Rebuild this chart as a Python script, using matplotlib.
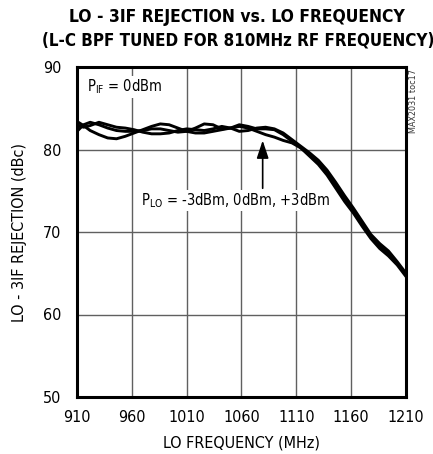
import matplotlib
matplotlib.use("Agg")
import matplotlib.pyplot as plt

freq = [910, 916, 922, 930, 938, 946, 954, 962, 970, 978, 986, 994, 1002, 1010,
        1018, 1026, 1034, 1042, 1050, 1058, 1066, 1074, 1082, 1090, 1098, 1106,
        1114, 1122, 1130, 1138, 1146, 1154, 1162, 1170, 1178, 1186, 1194, 1202, 1210]

rej_m3 = [83.4, 82.9, 82.3, 81.8, 81.4, 81.3, 81.6, 82.0, 82.4, 82.8, 83.1, 83.0, 82.6, 82.2,
          82.0, 82.0, 82.2, 82.4, 82.6, 82.8, 82.6, 82.2, 81.8, 81.5, 81.1, 80.8,
          80.2, 79.4, 78.5, 77.2, 75.6, 74.0, 72.6, 71.0, 69.4, 68.3, 67.4, 66.2, 64.8]
rej_0 = [82.2, 83.0, 83.3, 83.0, 82.6, 82.3, 82.2, 82.2, 82.3, 82.5, 82.5, 82.3, 82.1, 82.2,
         82.6, 83.1, 83.0, 82.5, 82.6, 83.0, 82.8, 82.5, 82.5, 82.4, 81.8, 81.0,
         80.2, 79.2, 78.2, 76.9, 75.3, 73.7, 72.3, 70.7, 69.2, 68.0, 67.1, 66.0, 64.6]
rej_p3 = [83.0, 82.7, 82.9, 83.3, 83.0, 82.7, 82.6, 82.4, 82.1, 81.9, 81.9, 82.0, 82.3, 82.5,
          82.4, 82.3, 82.5, 82.8, 82.6, 82.2, 82.3, 82.6, 82.7, 82.5, 82.0, 81.2,
          80.4, 79.6, 78.7, 77.5, 76.0, 74.4, 72.9, 71.3, 69.7, 68.6, 67.7, 66.4, 65.0]

xticks = [910, 960, 1010, 1060, 1110, 1160, 1210]
yticks = [50, 60, 70, 80, 90]

plt.rcParams['font.family'] = ['DejaVu Sans']
plt.rcParams['font.stretch'] = 'condensed'
plt.rcParams['mathtext.fontset'] = 'custom'
plt.rcParams['mathtext.rm'] = 'DejaVu Sans:stretch=condensed'

fig = plt.figure(figsize=(4.33, 4.54), dpi=100)
ax = fig.add_axes([77/433, 1-397/454, 329/433, 330/454])

for ys in (rej_m3, rej_0, rej_p3):
    ax.plot(freq, ys, color='black', lw=2.1, solid_capstyle='round', zorder=3)

ax.set_xlim(910, 1210)
ax.set_ylim(50, 90)
ax.set_xticks(xticks)
ax.set_yticks(yticks)
ax.grid(True, color='#606060', lw=1.0)
ax.tick_params(length=0, labelsize=11.5)
ax.tick_params(axis='y', pad=11)
ax.tick_params(axis='x', pad=9)
for s in ax.spines.values():
    s.set_linewidth(2.2)

ax.set_xlabel("LO FREQUENCY (MHz)", fontsize=11.5)
ax.xaxis.set_label_coords(0.5, -(443-397)/330)
ax.xaxis.label.set_va('center')
ax.set_ylabel("LO - 3IF REJECTION (dBc)", fontsize=11.5)
ax.yaxis.set_label_coords(-(77-19)/329, 0.5)
ax.yaxis.label.set_va('center')

fig.text(237/433, 1-17.5/454, "LO - 3IF REJECTION vs. LO FREQUENCY", ha='center', va='center',
         fontsize=12.5, fontweight='bold')
fig.text(238/433, 1-40/454, "(L-C BPF TUNED FOR 810MHz RF FREQUENCY)", ha='center', va='center',
         fontsize=12.2, fontweight='bold')

box = dict(facecolor='white', edgecolor='none', pad=1.0)
ax.text(919, 87.6, r"P$_{\mathregular{IF}}$ = 0dBm", fontsize=10.5, ha='left', va='center',
        bbox=box, zorder=2)
ax.text(968, 73.8, r"P$_{\mathregular{LO}}$ = -3dBm, 0dBm, +3dBm", fontsize=10.5,
        ha='left', va='center', bbox=box, zorder=2)
ax.annotate("", xy=(1079.3, 81.1), xytext=(1079.3, 75.3),
            arrowprops=dict(arrowstyle='-|>,head_length=0.9,head_width=0.3', color='black',
                            lw=1.2, shrinkA=0, shrinkB=0, mutation_scale=12), zorder=5)

fig.text(413/433, 1-101/454, "MAX2031 toc17", rotation=90, ha='center', va='center',
         fontsize=6.5, color='#333333')

fig.savefig("out.png", dpi=100)
